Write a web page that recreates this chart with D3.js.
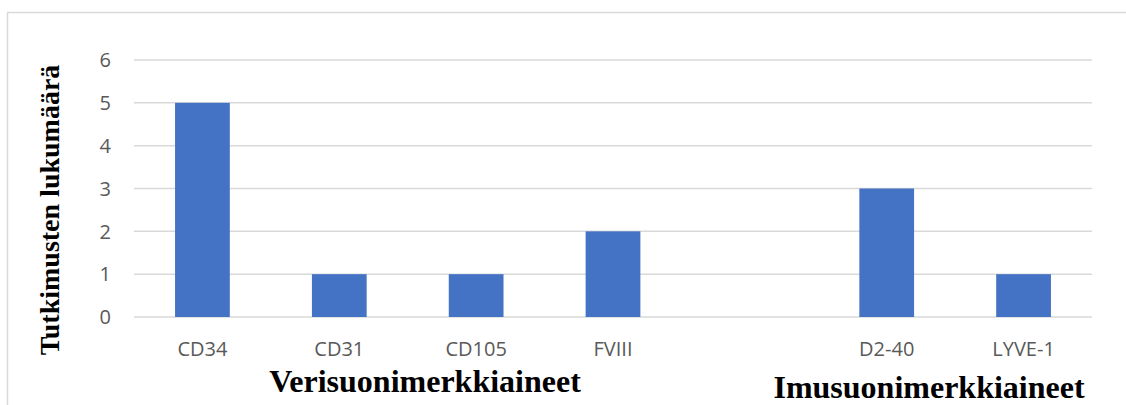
<!DOCTYPE html>
<html lang="fi">
<head>
    <meta charset="UTF-8">
    <script src="https://d3js.org/d3.v7.min.js"></script>
    <title>Tutkimusten lukumäärä</title>
    <style>
        body{
            margin: 0;
            background: #fff;
        }
        svg{
            display: block;
        }
        .tick-label{
            font-family: "Open Sans", sans-serif;
            font-size: 20px;
            fill: #595959;
        }
        .title{
            font-family: "Liberation Serif", serif;
            font-weight: bold;
            fill: #000;
        }
    </style>
</head>
<body>
<svg width="1126" height="405"></svg>
<script>
// data
let categories = ["CD34", "CD31", "CD105", "FVIII", "", "D2-40", "LYVE-1"]
let counts = [5, 1, 1, 2, null, 3, 1]
let yTicks = [0, 1, 2, 3, 4, 5, 6]

let svg = d3.select("svg")

// chart frame
svg.append("rect")
    .attr("x", 7.5).attr("y", 12.5)
    .attr("width", 1130).attr("height", 400)
    .attr("fill", "none")
    .attr("stroke", "#d9d9d9")
    .attr("stroke-width", 1.5)

let x = d3.scaleBand()
    .domain(d3.range(categories.length))
    .range([134, 1092])
    .paddingInner(0.6)
    .paddingOuter(0.3)

let y = d3.scaleLinear()
    .domain([0, 6])
    .range([317, 60])

// gridlines
svg.selectAll("line.grid")
    .data(yTicks)
    .join("line")
    .attr("class", "grid")
    .attr("x1", 134).attr("x2", 1092)
    .attr("y1", d => y(d)).attr("y2", d => y(d))
    .attr("stroke", "#d9d9d9")
    .attr("stroke-width", 1.5)

// y tick labels
svg.selectAll("text.ytick")
    .data(yTicks)
    .join("text")
    .attr("class", "tick-label ytick")
    .attr("x", 111)
    .attr("y", d => y(d))
    .attr("dy", "0.36em")
    .attr("text-anchor", "end")
    .text(d => d)

// bars
let bars = categories.map((c, i) => ({i: i, name: c, v: counts[i]}))
    .filter(d => d.v != null)

svg.selectAll("rect.bar")
    .data(bars)
    .join("rect")
    .attr("class", "bar")
    .attr("x", d => x(d.i))
    .attr("width", x.bandwidth())
    .attr("y", d => y(d.v))
    .attr("height", d => y(0) - y(d.v))
    .attr("fill", "#4472c4")

// category labels
svg.selectAll("text.xtick")
    .data(bars)
    .join("text")
    .attr("class", "tick-label xtick")
    .attr("x", d => x(d.i) + x.bandwidth() / 2)
    .attr("y", 356)
    .attr("text-anchor", "middle")
    .text(d => d.name)

// axis titles
svg.append("text")
    .attr("class", "title")
    .attr("transform", "translate(59,210) rotate(-90)")
    .attr("text-anchor", "middle")
    .style("font-size", "28px")
    .text("Tutkimusten lukumäärä")

svg.append("text")
    .attr("class", "title")
    .attr("x", 425).attr("y", 392)
    .attr("text-anchor", "middle")
    .style("font-size", "32px")
    .text("Verisuonimerkkiaineet")

svg.append("text")
    .attr("class", "title")
    .attr("x", 929).attr("y", 398)
    .attr("text-anchor", "middle")
    .style("font-size", "32px")
    .text("Imusuonimerkkiaineet")
</script>
</body>
</html>
